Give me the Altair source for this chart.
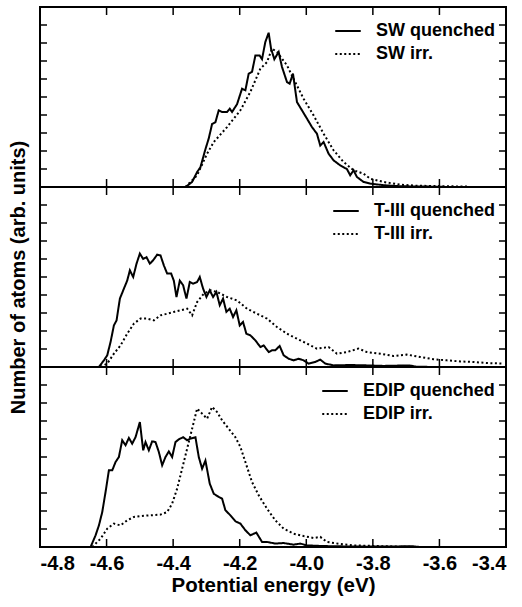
import altair as alt
import pandas as pd

FONT = "Liberation Sans"

# ---------- data (energy in eV, counts in arb. units) ----------
sw_q_x = [-4.363, -4.343, -4.328, -4.318, -4.303, -4.293, -4.283, -4.273, -4.263, -4.253,
          -4.238, -4.230, -4.223, -4.208, -4.193, -4.183, -4.173, -4.163, -4.153, -4.140,
          -4.133, -4.123, -4.113, -4.106, -4.096, -4.083, -4.073, -4.058, -4.050, -4.040,
          -4.028, -4.013, -3.998, -3.983, -3.968, -3.958, -3.948, -3.933, -3.918, -3.898,
          -3.878, -3.868, -3.858, -3.848, -3.828, -3.808, -3.768, -3.718, -3.620, -3.570]
sw_q_y = [0.0, 0.28, 0.83, 1.1, 2.1, 2.7, 3.5, 3.6, 4.26, 4.17,
          4.17, 4.35, 4.17, 4.6, 5.46, 5.37, 6.3, 6.4, 7.3, 7.3,
          7.1, 8.06, 8.57, 7.7, 7.1, 7.5, 6.67, 5.83, 5.74, 6.3,
          4.72, 4.26, 3.8, 3.33, 2.96, 2.3, 2.5, 1.85, 1.48, 1.2,
          1.0, 0.65, 0.93, 0.56, 0.28, 0.19, 0.1, 0.04, 0.02, 0.0]

sw_i_x = [-4.363, -4.328, -4.298, -4.278, -4.238, -4.198, -4.168, -4.138, -4.118, -4.103,
          -4.088, -4.058, -4.038, -4.008, -3.978, -3.948, -3.918, -3.888, -3.858, -3.828,
          -3.808, -3.768, -3.718, -3.668, -3.570, -3.510]
sw_i_y = [0.0, 0.65, 1.85, 2.5, 3.33, 4.26, 5.28, 6.57, 6.94, 7.69,
          7.5, 6.76, 6.0, 4.9, 3.98, 2.96, 2.04, 1.39, 0.93, 0.74,
          0.46, 0.28, 0.13, 0.07, 0.04, 0.02]

t3_q_x = [-4.623, -4.608, -4.598, -4.588, -4.578, -4.570, -4.560, -4.548, -4.538, -4.530,
          -4.520, -4.510, -4.500, -4.490, -4.480, -4.470, -4.460, -4.448, -4.438, -4.428,
          -4.418, -4.406, -4.398, -4.390, -4.380, -4.370, -4.360, -4.350, -4.340, -4.328,
          -4.320, -4.310, -4.300, -4.290, -4.280, -4.270, -4.260, -4.250, -4.240, -4.230,
          -4.220, -4.210, -4.200, -4.190, -4.180, -4.168, -4.153, -4.138, -4.128, -4.113,
          -4.103, -4.093, -4.080, -4.068, -4.053, -4.038, -4.023, -4.008, -3.993, -3.973,
          -3.958, -3.943, -3.918, -3.868, -3.818, -3.768, -3.690, -3.670, -3.620]
t3_q_y = [0.0, 0.37, 0.65, 1.39, 2.31, 2.59, 3.8, 4.35, 4.8, 5.37,
          5.0, 5.74, 6.3, 6.0, 6.1, 5.74, 5.93, 6.24, 6.2, 5.65,
          5.19, 5.19, 4.8, 3.89, 4.8, 4.54, 3.8, 4.72, 4.63, 4.72,
          5.0, 4.35, 3.89, 4.26, 3.89, 4.17, 3.43, 3.8, 3.06, 3.24,
          2.78, 3.15, 2.31, 2.5, 1.85, 1.76, 1.48, 1.11, 1.2, 0.83,
          0.93, 0.93, 1.17, 0.65, 0.46, 0.37, 0.46, 0.37, 0.19, 0.28,
          0.41, 0.19, 0.09, 0.11, 0.09, 0.06, 0.09, 0.02, 0.0]

t3_i_x = [-4.618, -4.598, -4.578, -4.558, -4.538, -4.518, -4.498, -4.478, -4.458, -4.438,
          -4.418, -4.398, -4.378, -4.358, -4.343, -4.328, -4.308, -4.288, -4.268, -4.238,
          -4.208, -4.178, -4.148, -4.118, -4.088, -4.058, -4.028, -3.998, -3.968, -3.933,
          -3.908, -3.878, -3.843, -3.818, -3.778, -3.738, -3.698, -3.658, -3.618, -3.578,
          -3.538, -3.498, -3.458, -3.408]
t3_i_y = [0.0, 0.19, 0.74, 1.2, 1.85, 2.41, 2.69, 2.69, 2.59, 2.87,
          2.96, 3.06, 3.15, 3.24, 2.87, 3.61, 4.07, 4.26, 4.17, 3.89,
          3.7, 3.24, 2.96, 2.69, 2.22, 1.85, 1.57, 1.3, 1.02, 1.11,
          0.74, 0.83, 1.02, 0.83, 0.74, 0.61, 0.69, 0.56, 0.43, 0.37,
          0.31, 0.28, 0.22, 0.19]

ed_q_x = [-4.648, -4.633, -4.623, -4.613, -4.603, -4.593, -4.583, -4.573, -4.563, -4.553,
          -4.543, -4.533, -4.523, -4.513, -4.500, -4.490, -4.483, -4.473, -4.463, -4.453,
          -4.443, -4.433, -4.423, -4.413, -4.403, -4.393, -4.383, -4.370, -4.358, -4.348,
          -4.333, -4.323, -4.313, -4.303, -4.290, -4.278, -4.263, -4.253, -4.243, -4.228,
          -4.213, -4.198, -4.183, -4.168, -4.150, -4.133, -4.118, -4.093, -4.068, -4.038,
          -4.018, -3.998, -3.958, -3.918, -3.818, -3.680, -3.660]
ed_q_y = [0.0, 0.65, 1.2, 1.94, 3.06, 4.26, 4.26, 4.72, 5.0, 5.93,
          5.65, 6.06, 5.74, 6.1, 6.94, 5.37, 5.83, 5.37, 5.87, 5.83,
          5.28, 4.54, 5.0, 5.31, 5.0, 5.83, 5.98, 6.1, 5.93, 6.02,
          6.1, 5.0, 4.35, 4.8, 3.52, 2.96, 2.78, 2.69, 2.04, 1.76,
          1.43, 1.3, 0.93, 0.65, 0.8, 0.28, 0.28, 0.19, 0.22, 0.13,
          0.19, 0.09, 0.06, 0.04, 0.02, 0.04, 0.0]

ed_i_x = [-4.643, -4.618, -4.598, -4.578, -4.558, -4.538, -4.518, -4.498, -4.468, -4.438,
          -4.418, -4.403, -4.388, -4.373, -4.358, -4.343, -4.328, -4.313, -4.298, -4.283,
          -4.268, -4.253, -4.233, -4.213, -4.198, -4.183, -4.163, -4.143, -4.118, -4.093,
          -4.068, -4.038, -4.008, -3.978, -3.958, -3.938, -3.898, -3.858, -3.798, -3.718,
          -3.668]
ed_i_y = [0.0, 0.46, 1.02, 1.3, 1.2, 1.48, 1.67, 1.72, 1.76, 1.8,
          1.94, 2.41, 3.24, 4.35, 5.46, 6.57, 7.69, 7.41, 7.13, 7.78,
          7.5, 7.04, 6.57, 6.1, 5.56, 4.72, 3.61, 2.87, 2.13, 1.48,
          1.02, 0.74, 0.61, 0.5, 0.56, 0.28, 0.17, 0.09, 0.06, 0.02,
          0.0]

x_ticks = [-4.8, -4.6, -4.4, -4.2, -4.0, -3.8, -3.6, -3.4]
inner_x_ticks = [-4.6, -4.4, -4.2, -4.0, -3.8, -3.6]
y_ticks = [1, 2, 3, 4, 5, 6, 7, 8, 9]

panels = [
    ("SW quenched", sw_q_x, sw_q_y, "SW irr.", sw_i_x, sw_i_y),
    ("T-III quenched", t3_q_x, t3_q_y, "T-III irr.", t3_i_x, t3_i_y),
    ("EDIP quenched", ed_q_x, ed_q_y, "EDIP irr.", ed_i_x, ed_i_y),
]

W, H = 466, 180
X_DOMAIN = [-4.8, -3.4]
Y_DOMAIN = [0, 10]


def make_panel(idx, name_q, xq, yq, name_i, xi, yi):
    rows = [{"E": a, "N": b, "label": name_q, "i": k} for k, (a, b) in enumerate(zip(xq, yq))]
    rows += [{"E": a, "N": b, "label": name_i, "i": k} for k, (a, b) in enumerate(zip(xi, yi))]
    df = pd.DataFrame(rows)

    bottom = idx == 2
    middle = idx == 1
    if bottom:
        x_axis = alt.Axis(values=x_ticks,
                          labelExpr="replace(format(datum.value, '.1f'), '\u2212', '-')",
                          ticks=False, domain=False, grid=False, labelPadding=6,
                          labelFont=FONT, labelFontSize=20, labelFontWeight="bold",
                          labelColor="black", title="Potential energy (eV)",
                          titleFont=FONT, titleFontSize=20.5, titleFontWeight="bold",
                          titleColor="black", titlePadding=2)
    else:
        x_axis = None
    if middle:
        y_axis = alt.Axis(labels=False, ticks=False, domain=False, grid=False,
                          title="Number of atoms (arb. units)", titleFont=FONT,
                          titleFontSize=20, titleFontWeight="bold", titleColor="black",
                          titlePadding=12)
    else:
        y_axis = None

    xs = alt.Scale(domain=X_DOMAIN, nice=False, zero=False)
    ys = alt.Scale(domain=Y_DOMAIN, nice=False)

    lines = alt.Chart(df).mark_line(color="black", strokeWidth=2, clip=True).encode(
        x=alt.X("E:Q", scale=xs, axis=x_axis),
        y=alt.Y("N:Q", scale=ys, axis=y_axis),
        strokeDash=alt.StrokeDash(
            "label:N",
            scale=alt.Scale(domain=[name_q, name_i], range=[[1, 0], [2, 2.5]]),
            legend=alt.Legend(title=None, orient="top-right", offset=10,
                              symbolType="stroke", symbolSize=650,
                              symbolStrokeWidth=2, symbolStrokeColor="black",
                              labelFont=FONT, labelFontSize=18, labelFontWeight="bold",
                              labelColor="black", labelOffset=14, rowPadding=-3,
                              padding=0),
        ),
        order="i:Q",
    )

    xt = pd.DataFrame({"E": inner_x_ticks})
    yt = pd.DataFrame({"N": y_ticks})
    tb = alt.Chart(xt).mark_rule(color="black", strokeWidth=1.5).encode(
        x=alt.X("E:Q", scale=xs, axis=x_axis), y=alt.value(H), y2=alt.value(H - 8))
    tt = alt.Chart(xt).mark_rule(color="black", strokeWidth=1.5).encode(
        x=alt.X("E:Q", scale=xs, axis=x_axis), y=alt.value(0), y2=alt.value(8))
    tl = alt.Chart(yt).mark_rule(color="black", strokeWidth=1.5).encode(
        y=alt.Y("N:Q", scale=ys, axis=y_axis), x=alt.value(0), x2=alt.value(7))
    tr = alt.Chart(yt).mark_rule(color="black", strokeWidth=1.5).encode(
        y=alt.Y("N:Q", scale=ys, axis=y_axis), x=alt.value(W), x2=alt.value(W - 7))

    return alt.layer(lines, tb, tt, tl, tr).properties(width=W, height=H)


charts = [make_panel(i, *p) for i, p in enumerate(panels)]

chart = alt.vconcat(*charts, spacing=0, bounds="flush").resolve_scale(
    strokeDash="independent"
).resolve_legend(strokeDash="independent").configure_view(
    stroke="black", strokeWidth=2
).configure_concat(spacing=0).properties(
    padding={"left": 6, "top": 5, "right": 5, "bottom": 5},
    background="white",
)

chart.save("out.html", embed_options={"renderer": "svg", "actions": False})
